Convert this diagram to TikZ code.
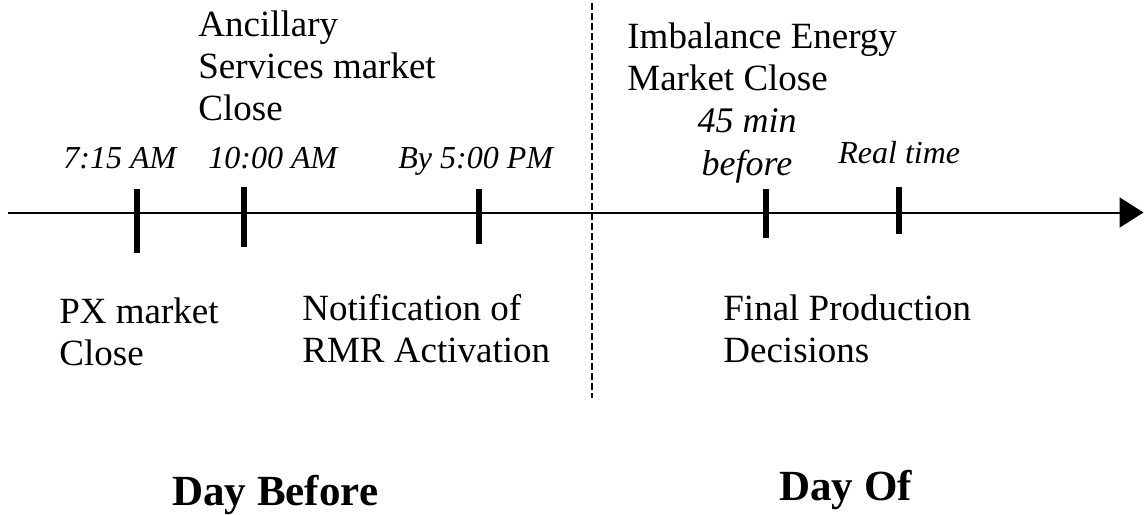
\documentclass[tikz,border=0pt]{standalone}
\usepackage{fontspec}
\setmainfont{Liberation Serif}
\usetikzlibrary{arrows.meta}
\newcommand{\tlbody}{\fontsize{18.5}{21}\selectfont}
\newcommand{\tlstamp}{\fontsize{16}{20}\selectfont\itshape}
\newcommand{\tllead}{\fontsize{18}{21.5}\selectfont\itshape}
\newcommand{\tlday}{\fontsize{21.5}{24}\selectfont\bfseries}

\begin{document}
\begin{tikzpicture}[x=0.5pt,y=-0.5pt,
  event/.style={anchor=north west,inner sep=0,align=left,font=\tlbody},
  stamp/.style={anchor=base west,inner sep=0,font=\tlstamp},
  tickmark/.style={line width=3pt},
  dayhead/.style={anchor=base west,inner sep=0,font=\tlday}]
\useasboundingbox (0,0) rectangle (1144,514);
% time axis
\coordinate (axisL) at (8,212.5);
\coordinate (axisR) at (1143.5,212.5);
\draw[line width=1pt,-{Triangle[length=12pt,width=15pt]}] (axisL) -- (axisR);
% day boundary
\draw[line width=0.75pt,dash pattern=on 3.5pt off 1.5pt] (592,3) -- (592,398);
% ticks
\draw[tickmark] (137,189) -- (137,253);
\draw[tickmark] (244,187) -- (244,247);
\draw[tickmark] (479,189) -- (479,244);
\draw[tickmark] (766,189) -- (766,238);
\draw[tickmark] (899,187) -- (899,234);
% above the axis
\node[event] (asclose) at (198,10) {Ancillary\\Services market\\Close};
\node[event] (imbclose) at (627,22) {Imbalance Energy\\Market Close};
\node[stamp] (t715) at (63,168) {7:15 AM};
\node[stamp] (t1000) at (208,168) {10:00 AM};
\node[stamp] (t500) at (398,168) {By 5:00 PM};
\node[anchor=north,inner sep=0,align=center,font=\tllead] (t45) at (747,108) {45 min\\before};
\node[stamp] (treal) at (838,163) {Real time};
% below the axis
\node[event] (pxclose) at (59,297) {PX market\\Close};
\node[event] (rmr) at (302,294) {Notification of\\RMR Activation};
\node[event] (final) at (723,294) {Final Production\\Decisions};
% days
\node[dayhead] (before) at (172,505) {Day Before};
\node[dayhead] (dayof) at (779,500) {Day Of};
\end{tikzpicture}
\end{document}
